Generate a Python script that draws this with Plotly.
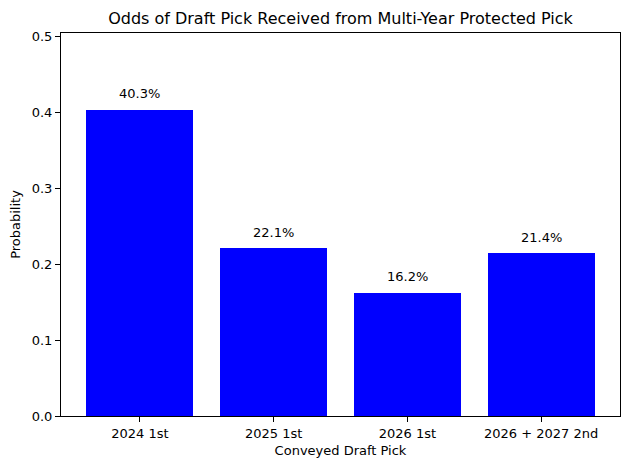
import plotly.graph_objects as go

categories = ["2024 1st", "2025 1st", "2026 1st", "2026 + 2027 2nd"]
probabilities = [0.403, 0.221, 0.162, 0.214]
labels = ["40.3%", "22.1%", "16.2%", "21.4%"]
y_ticks = [0.0, 0.1, 0.2, 0.3, 0.4, 0.5]

font = "DejaVu Sans"
x_idx = list(range(len(categories)))

fig = go.Figure()
fig.add_trace(go.Bar(x=x_idx, y=probabilities, width=0.8, marker=dict(color="#0000ff", line=dict(width=0))))

for xi, p, lab in zip(x_idx, probabilities, labels):
    fig.add_annotation(x=xi, y=p, text=lab, showarrow=False, yanchor="middle", yshift=16,
                       font=dict(family=font, size=13, color="black"))

fig.update_layout(
    width=630, height=470,
    margin=dict(l=61, r=10, t=33, b=54),
    plot_bgcolor="white", paper_bgcolor="white",
    font=dict(family=font, size=13, color="black"),
    showlegend=False,
    title=dict(text="Odds of Draft Pick Received from Multi-Year Protected Pick",
               x=(61 + 620) / 2 / 630, xanchor="center", y=1 - 18 / 470, yanchor="middle",
               font=dict(family=font, size=16, color="black")),
    bargap=0,
)
fig.update_xaxes(range=[-0.59, 3.59], tickvals=x_idx, ticktext=categories,
                 showline=True, linecolor="black", linewidth=1, mirror=True,
                 ticks="outside", ticklen=5, tickcolor="black", showgrid=False, zeroline=False,
                 title=dict(text="Conveyed Draft Pick", font=dict(family=font, size=13), standoff=6))
fig.update_yaxes(range=[0, 0.504], tickvals=y_ticks, tickformat=".1f",
                 showline=True, linecolor="black", linewidth=1, mirror=True,
                 ticks="outside", ticklen=5, tickcolor="black", showgrid=False, zeroline=False,
                 title=dict(text="Probability", font=dict(family=font, size=13), standoff=8))

fig.write_html("out.html")
